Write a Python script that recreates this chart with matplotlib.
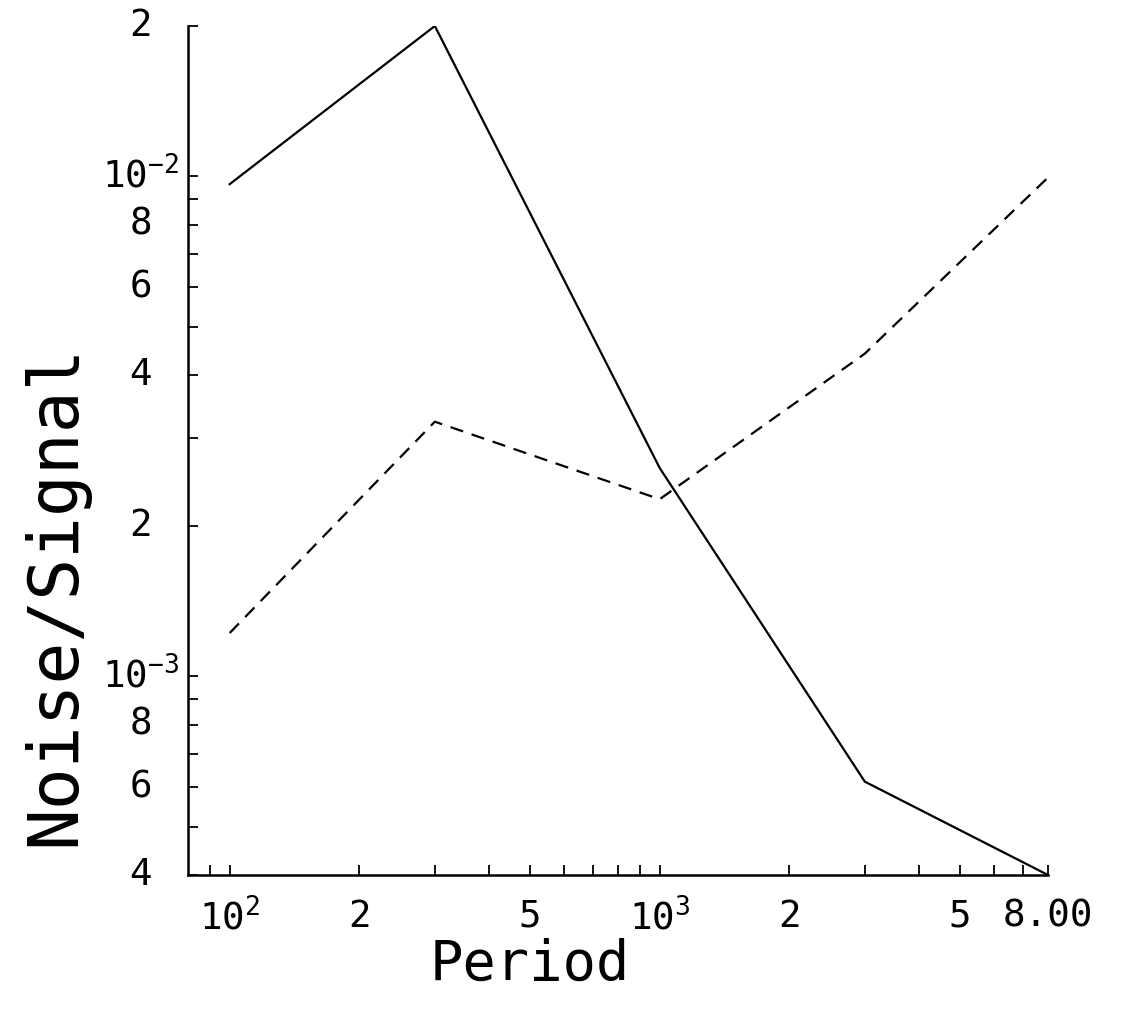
import matplotlib
matplotlib.use("Agg")
import matplotlib.pyplot as plt
from matplotlib.transforms import offset_copy
import matplotlib.transforms as mtransforms

plt.rcParams['font.family'] = ['DejaVu Sans Mono', 'DejaVu Sans']
plt.rcParams['mathtext.default'] = 'regular'
plt.rcParams['mathtext.fontset'] = 'custom'
plt.rcParams['mathtext.rm'] = 'DejaVu Sans Mono'

# ---- data ----
period = [100, 300, 1000, 3000, 8000]
solid_ns = [9.65e-3, 2.0e-2, 2.61e-3, 6.15e-4, 4.0e-4]
dashed_ns = [1.22e-3, 3.23e-3, 2.26e-3, 4.42e-3, 9.95e-3]

x_ticks = [90, 100, 200, 300, 400, 500, 600, 700, 800, 900,
           1000, 2000, 3000, 4000, 5000, 6000, 7000, 8000]
x_labels = ['', '$10^{2}$', '2', '', '', '5', '', '', '', '',
            '$10^{3}$', '2', '', '', '5', '', '', '8.00']
y_ticks = [4e-4, 5e-4, 6e-4, 7e-4, 8e-4, 9e-4, 1e-3, 2e-3, 3e-3, 4e-3,
           5e-3, 6e-3, 7e-3, 8e-3, 9e-3, 1e-2, 2e-2]
y_labels = ['4', '', '6', '', '8', '', '$10^{-3}$', '2', '', '4',
            '', '6', '', '8', '', '$10^{-2}$', '2']
x_title = 'Period'
y_title = 'Noise/Signal'

fig = plt.figure(figsize=(11.44, 10.10), dpi=100)
ax = fig.add_axes([188/1144, 1-875/1010, (1048-188)/1144, (875-26)/1010])
ax.set_xscale('log')
ax.set_yscale('log')
ax.set_xlim(80, 8000)
ax.set_ylim(4e-4, 2e-2)

ax.plot(period, solid_ns, color='black', lw=1.6, linestyle='-')
ax.plot(period, dashed_ns, color='black', lw=1.6, linestyle=(0, (6, 4)))

for s in ['top', 'right']:
    ax.spines[s].set_visible(False)
for s in ['left', 'bottom']:
    ax.spines[s].set_linewidth(1.8)

ax.xaxis.set_minor_locator(matplotlib.ticker.NullLocator())
ax.yaxis.set_minor_locator(matplotlib.ticker.NullLocator())
ax.set_xticks(x_ticks)
ax.set_xticklabels(x_labels, fontsize=27)
ax.set_yticks(y_ticks)
ax.set_yticklabels([''] * len(y_ticks))
ax.tick_params(axis='both', direction='in', length=7, width=1.3)
ax.tick_params(axis='x', pad=17)

# y tick labels, drawn manually so plain digits and powers align like the original
bt = mtransforms.blended_transform_factory(ax.transAxes, ax.transData)
for v, lab in zip(y_ticks, y_labels):
    if not lab:
        continue
    if lab.startswith('$'):
        tr = offset_copy(bt, fig=fig, x=-86, y=0, units='dots')
        ax.text(0, v, lab, transform=tr, ha='left', va='center', fontsize=27)
    else:
        tr = offset_copy(bt, fig=fig, x=-36, y=0, units='dots')
        ax.text(0, v, lab, transform=tr, ha='right', va='center', fontsize=27)

fig.text(530/1144, 1-965/1010, x_title, ha='center', va='center', fontsize=40)
fig.text(55/1144, 1-595/1010, y_title, ha='center', va='center', fontsize=50, rotation=90)

fig.savefig('out.png', dpi=100, facecolor='white')
